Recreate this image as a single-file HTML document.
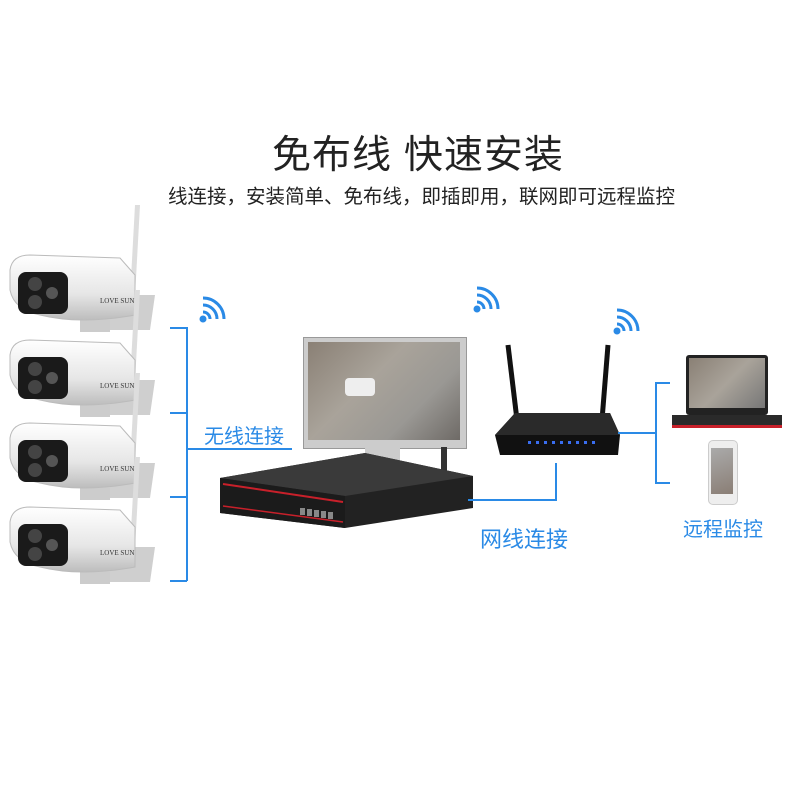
<!DOCTYPE html>
<html><head><meta charset="utf-8"><style>
body{margin:0;width:800px;height:800px;background:#fff;position:relative;overflow:hidden;font-family:"Liberation Sans","Noto Sans CJK SC",sans-serif}
.a{position:absolute}
.t{position:absolute;white-space:nowrap}
.bl{background:#2a8ae6}
</style></head><body>
<div class="t" style="left:272px;top:124px;font-size:39px;color:#222;letter-spacing:1px">免布线 快速安装</div>
<div class="t" style="left:168px;top:180px;font-size:19.5px;color:#222">线连接，安装简单、免布线，即插即用，联网即可远程监控</div>

<!-- left bracket -->
<div class="a bl" style="left:186px;top:327px;width:2px;height:254px"></div>
<div class="a bl" style="left:170px;top:327px;width:17px;height:2px"></div>
<div class="a bl" style="left:170px;top:412px;width:17px;height:2px"></div>
<div class="a bl" style="left:170px;top:496px;width:17px;height:2px"></div>
<div class="a bl" style="left:170px;top:580px;width:17px;height:2px"></div>
<div class="a bl" style="left:187px;top:448px;width:105px;height:2px"></div>
<div class="t" style="left:204px;top:420px;font-size:20px;color:#2a8ae6">无线连接</div>

<!-- cameras -->
<svg class="a" style="left:0;top:200px" width="175" height="420">
<defs><linearGradient id="cg" x1="0" y1="0" x2="0" y2="1"><stop offset="0" stop-color="#fff"/><stop offset=".6" stop-color="#e6e6e6"/><stop offset="1" stop-color="#bdbdbd"/></linearGradient></defs>
<g id="cam">
<path d="M135 5 L140 5 L134 115 L129 115 Z" fill="#ddd"/>
<path d="M95 95 L100 130 L150 130 L155 95 Z" fill="#cfcfcf"/>
<rect x="80" y="120" width="30" height="12" fill="#ccc"/>
<path d="M10 70 Q12 55 30 55 L120 58 L135 75 L135 115 Q80 125 40 115 Q14 110 10 90 Z" fill="url(#cg)" stroke="#bbb"/>
<rect x="18" y="72" width="50" height="42" rx="8" fill="#1a1a1a"/>
<circle cx="35" cy="84" r="7" fill="#444"/><circle cx="35" cy="102" r="7" fill="#444"/><circle cx="52" cy="93" r="6" fill="#555"/>
<text x="100" y="103" font-size="7" font-family="Liberation Serif" fill="#333">LOVE SUN</text>
</g>
<use href="#cam" y="85"/><use href="#cam" y="168"/><use href="#cam" y="252"/>
</svg>

<!-- wifi icons -->
<svg class="a" style="left:194px;top:296px" width="32" height="32"><g fill="none" stroke="#2a8ae6" stroke-width="3"><path d="M9 16 A7 7 0 0 1 16 23"/><path d="M9 9 A14 14 0 0 1 23 23"/><path d="M9 2 A21 21 0 0 1 30 23"/></g><circle cx="9" cy="23" r="3.5" fill="#2a8ae6"/></svg>
<svg class="a" style="left:468px;top:286px" width="32" height="32"><g fill="none" stroke="#2a8ae6" stroke-width="3"><path d="M9 16 A7 7 0 0 1 16 23"/><path d="M9 9 A14 14 0 0 1 23 23"/><path d="M9 2 A21 21 0 0 1 30 23"/></g><circle cx="9" cy="23" r="3.5" fill="#2a8ae6"/></svg>
<svg class="a" style="left:608px;top:308px" width="32" height="32"><g fill="none" stroke="#2a8ae6" stroke-width="3"><path d="M9 16 A7 7 0 0 1 16 23"/><path d="M9 9 A14 14 0 0 1 23 23"/><path d="M9 2 A21 21 0 0 1 30 23"/></g><circle cx="9" cy="23" r="3.5" fill="#2a8ae6"/></svg>

<!-- monitor -->
<div class="a" style="left:303px;top:337px;width:162px;height:110px;background:#ccc;border:1px solid #999"></div>
<div class="a" style="left:308px;top:342px;width:152px;height:98px;background:linear-gradient(135deg,#8a8075 0%,#a9a39a 40%,#9a9894 70%,#6e6a66 100%)"></div>
<div class="a" style="left:345px;top:378px;width:30px;height:18px;background:#eee;border-radius:4px"></div>
<div class="a" style="left:365px;top:447px;width:35px;height:20px;background:#ccc"></div>
<div class="a" style="left:441px;top:447px;width:6px;height:30px;background:#333"></div>
<!-- nvr -->
<svg class="a" style="left:215px;top:448px" width="265" height="90">
<path d="M5 30 L150 5 L258 28 L258 60 L130 80 L5 65 Z" fill="#222"/>
<path d="M5 30 L150 5 L258 28 L130 48 Z" fill="#3a3a3a"/>
<path d="M5 30 L130 48 L130 80 L5 65 Z" fill="#1b1b1b"/>
<path d="M8 36 L128 54" stroke="#c8202a" stroke-width="2"/>
<path d="M8 58 L128 74" stroke="#c8202a" stroke-width="1.5"/>
<g fill="#888"><rect x="85" y="60" width="5" height="7"/><rect x="92" y="61" width="5" height="7"/><rect x="99" y="62" width="5" height="7"/><rect x="106" y="63" width="5" height="7"/><rect x="113" y="64" width="5" height="7"/></g>
</svg>

<!-- router -->
<svg class="a" style="left:490px;top:335px" width="135" height="130">
<path d="M18 10 L30 110" stroke="#111" stroke-width="5"/>
<path d="M118 10 L110 110" stroke="#111" stroke-width="5"/>
<path d="M5 100 L25 78 L120 78 L130 100 L128 120 L10 120 Z" fill="#111"/>
<path d="M25 78 L120 78 L130 100 L5 100 Z" fill="#2a2a2a"/>
<g fill="#3a6ef0"><rect x="38" y="106" width="3" height="3"/><rect x="46" y="106" width="3" height="3"/><rect x="54" y="106" width="3" height="3"/><rect x="62" y="106" width="3" height="3"/><rect x="70" y="106" width="3" height="3"/><rect x="78" y="106" width="3" height="3"/><rect x="86" y="106" width="3" height="3"/><rect x="94" y="106" width="3" height="3"/><rect x="102" y="106" width="3" height="3"/></g>
</svg>
<!-- network line -->
<div class="a bl" style="left:555px;top:463px;width:2px;height:37px"></div>
<div class="a bl" style="left:468px;top:499px;width:89px;height:2px"></div>
<div class="t" style="left:480px;top:522px;font-size:22px;color:#2a8ae6">网线连接</div>

<!-- right bracket -->
<div class="a bl" style="left:618px;top:432px;width:38px;height:2px"></div>
<div class="a bl" style="left:655px;top:382px;width:2px;height:102px"></div>
<div class="a bl" style="left:655px;top:382px;width:15px;height:2px"></div>
<div class="a bl" style="left:655px;top:482px;width:15px;height:2px"></div>

<!-- laptop -->
<div class="a" style="left:686px;top:355px;width:82px;height:60px;background:#222;border-radius:3px"></div>
<div class="a" style="left:689px;top:358px;width:76px;height:50px;background:linear-gradient(135deg,#8a8075,#a9a39a 50%,#777)"></div>
<div class="a" style="left:672px;top:415px;width:110px;height:10px;background:#2a2a2a;border-bottom:3px solid #c8202a"></div>
<!-- phone -->
<div class="a" style="left:708px;top:440px;width:28px;height:63px;background:#eee;border:1px solid #ccc;border-radius:5px"></div>
<div class="a" style="left:711px;top:448px;width:22px;height:46px;background:linear-gradient(160deg,#aaa,#8a7e75)"></div>
<div class="t" style="left:683px;top:513px;font-size:20px;color:#2a8ae6">远程监控</div>
</body></html>
